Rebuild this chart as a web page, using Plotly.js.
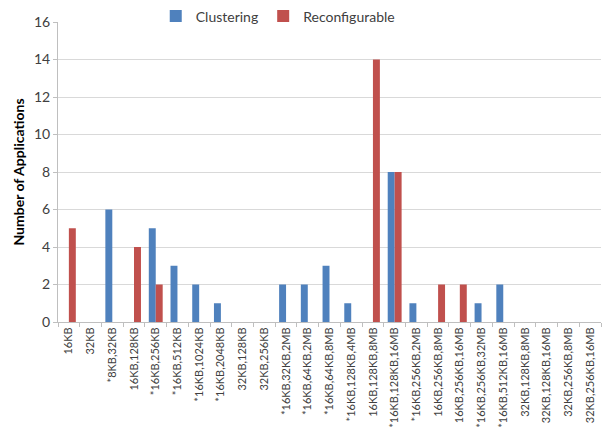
<!DOCTYPE html>
<html>
<head>
<meta charset="utf-8">
<script src="https://cdn.plot.ly/plotly-3.0.1.min.js"></script>
<style>body{margin:0;background:#fff}#chart{width:602px;height:432px}</style>
</head>
<body>
<div id="chart"></div>
<script>
const categories = ["16KB","32KB","*8KB,32KB","16KB,128KB","*16KB,256KB","*16KB,512KB","*16KB,1024KB","*16KB,2048KB","32KB,128KB","32KB,256KB","*16KB,32KB,2MB","*16KB,64KB,2MB","*16KB,64KB,8MB","*16KB,128KB,4MB","16KB,128KB,8MB","*16KB,128KB,16MB","*16KB,256KB,2MB","16KB,256KB,8MB","16KB,256KB,16MB","*16KB,256KB,32MB","*16KB,512KB,16MB","32KB,128KB,8MB","32KB,128KB,16MB","32KB,256KB,8MB","32KB,256KB,16MB"];
const clustering = [0,0,6,0,5,3,2,1,0,0,2,2,3,1,0,8,1,0,0,1,2,0,0,0,0];
const reconfigurable = [5,0,0,4,2,0,0,0,0,0,0,0,0,0,14,8,0,2,2,0,0,0,0,0,0];
const yTicks = [0,2,4,6,8,10,12,14,16];

const font = "Lato, 'Open Sans', sans-serif";
const data = [
  {type:"bar", name:"Clustering", x:categories, y:clustering, marker:{color:"#4F81BD"}},
  {type:"bar", name:"Reconfigurable", x:categories, y:reconfigurable, marker:{color:"#C0504D"}}
];
const layout = {
  width:602, height:432,
  margin:{l:58, r:1, t:21, b:110},
  paper_bgcolor:"#fff", plot_bgcolor:"#fff",
  barmode:"group", bargap:0.36, bargroupgap:0,
  font:{family:font, color:"#595959"},
  showlegend:true,
  legend:{orientation:"h", x:0.18, xanchor:"left", y:1.015, yanchor:"middle", bgcolor:"rgba(255,255,255,0)", font:{size:14, color:"#404040"}, itemwidth:30, traceorder:"normal"},
  xaxis:{type:"category", tickangle:-90, tickfont:{size:11, color:"#404040"}, showgrid:false, showline:true, linecolor:"#BFBFBF", ticks:"outside", ticklen:4, tickcolor:"#BFBFBF", tickson:"boundaries", automargin:false},
  yaxis:{range:[0,16], tickvals:yTicks, tickfont:{size:14, color:"#404040"}, showgrid:true, gridcolor:"#D9D9D9", showline:true, linecolor:"#BFBFBF", ticks:"outside", ticklen:4, tickcolor:"#BFBFBF", zeroline:false, automargin:false,
    title:{text:"<b>Number of Applications</b>", font:{size:14, color:"#000"}, standoff:6}}
};
Plotly.newPlot("chart", data, layout, {displayModeBar:false, staticPlot:true});
</script>
</body>
</html>
